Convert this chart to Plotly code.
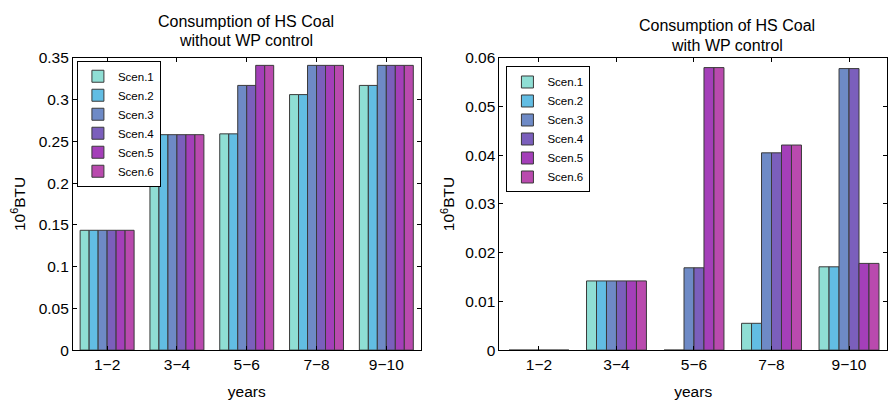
import plotly.graph_objects as go

categories = ["1\u22122", "3\u22124", "5\u22126", "7\u22128", "9\u221210"]
scenarios = ["Scen.1", "Scen.2", "Scen.3", "Scen.4", "Scen.5", "Scen.6"]
colors = ["#8fded4", "#62bde3", "#6e8ac6", "#7b5fbc", "#a43fb9", "#b94aae"]

# without WP control (rows: scenarios, cols: categories)
without_wp = [
    [0.1435, 0.258, 0.259, 0.306, 0.317],
    [0.1435, 0.258, 0.259, 0.306, 0.317],
    [0.1435, 0.258, 0.317, 0.341, 0.341],
    [0.1435, 0.258, 0.317, 0.341, 0.341],
    [0.1435, 0.258, 0.341, 0.341, 0.341],
    [0.1435, 0.258, 0.341, 0.341, 0.341],
]
# with WP control
with_wp = [
    [0.0, 0.0142, 0.0, 0.0055, 0.0171],
    [0.0, 0.0142, 0.0, 0.0055, 0.0171],
    [0.0, 0.0142, 0.0169, 0.0405, 0.0578],
    [0.0, 0.0142, 0.0169, 0.0405, 0.0578],
    [0.0, 0.0142, 0.0580, 0.0421, 0.0178],
    [0.0, 0.0142, 0.0580, 0.0421, 0.0178],
]

left_yticks = [0, 0.05, 0.1, 0.15, 0.2, 0.25, 0.3, 0.35]
left_yticktext = ["0", "0.05", "0.1", "0.15", "0.2", "0.25", "0.3", "0.35"]
right_yticks = [0, 0.01, 0.02, 0.03, 0.04, 0.05, 0.06]
right_yticktext = ["0", "0.01", "0.02", "0.03", "0.04", "0.05", "0.06"]

left_title = ["Consumption of HS Coal", "without WP control"]
right_title = ["Consumption of HS Coal", "with WP control"]

W, H = 888, 406
FONT = "Liberation Sans, Arial, Helvetica, sans-serif"
FS = 15.5

fig = go.Figure()
xpos = list(range(len(categories)))
for i, s in enumerate(scenarios):
    fig.add_trace(go.Bar(
        x=xpos, y=without_wp[i], name=s, offsetgroup=str(i),
        marker=dict(color=colors[i], line=dict(color="#3a3a3a", width=1)),
        xaxis="x", yaxis="y", legend="legend",
    ))
for i, s in enumerate(scenarios):
    fig.add_trace(go.Bar(
        x=xpos, y=with_wp[i], name=s, offsetgroup=str(i),
        marker=dict(color=colors[i], line=dict(color="#3a3a3a", width=1)),
        xaxis="x2", yaxis="y2", legend="legend2",
    ))

y0 = 1 - 356 / H
y1 = 1 - 51 / H

axis_common = dict(
    showline=True, linecolor="black", linewidth=1, mirror="ticks",
    ticks="inside", ticklen=4, tickcolor="black", showgrid=False,
    zeroline=False, tickfont=dict(size=FS, color="black", family=FONT),
)

fig.update_layout(
    width=W, height=H,
    margin=dict(l=0, r=0, t=0, b=0),
    paper_bgcolor="white", plot_bgcolor="white",
    barmode="group", bargap=0.227, bargroupgap=0,
    font=dict(family=FONT, color="black"),
    xaxis=dict(domain=[73 / W, 421 / W], range=[-0.49, 4.49],
               tickvals=xpos, ticktext=categories, anchor="y",
               title=dict(text="years", font=dict(size=FS), standoff=14),
               **axis_common),
    yaxis=dict(domain=[y0, y1], range=[0, 0.35], tickvals=left_yticks,
               ticktext=left_yticktext, anchor="x",
               title=dict(text="10<sup>6</sup>BTU", font=dict(size=FS), standoff=9),
               **axis_common),
    xaxis2=dict(domain=[500 / W, 1.0], range=[-0.51, 4.49],
                tickvals=xpos, ticktext=categories, anchor="y2",
                title=dict(text="years", font=dict(size=FS), standoff=14),
                **axis_common),
    yaxis2=dict(domain=[y0, y1], range=[0, 0.06], tickvals=right_yticks,
                ticktext=right_yticktext, anchor="x2",
                title=dict(text="10<sup>6</sup>BTU", font=dict(size=FS), standoff=6),
                **axis_common),
    legend=dict(x=77 / W, y=1 - 54 / H, xanchor="left", yanchor="top",
                bgcolor="white", bordercolor="black", borderwidth=1,
                font=dict(size=11.5), tracegroupgap=0, itemwidth=30),
    legend2=dict(x=507 / W, y=1 - 60 / H, xanchor="left", yanchor="top",
                 bgcolor="white", bordercolor="black", borderwidth=1,
                 font=dict(size=11.5), tracegroupgap=0, itemwidth=30),
    annotations=[
        dict(text=left_title[0], x=246 / W, y=1 - 13.3 / H, xref="paper", yref="paper",
             xanchor="center", yanchor="middle", showarrow=False, font=dict(size=16)),
        dict(text=left_title[1], x=246 / W, y=1 - 32.5 / H, xref="paper", yref="paper",
             xanchor="center", yanchor="middle", showarrow=False, font=dict(size=16)),
        dict(text=right_title[0], x=728 / W, y=1 - 17.7 / H, xref="paper", yref="paper",
             xanchor="center", yanchor="middle", showarrow=False, font=dict(size=16)),
        dict(text=right_title[1], x=728 / W, y=1 - 38.5 / H, xref="paper", yref="paper",
             xanchor="center", yanchor="middle", showarrow=False, font=dict(size=16)),
    ],
)

fig.write_html("out.html")
